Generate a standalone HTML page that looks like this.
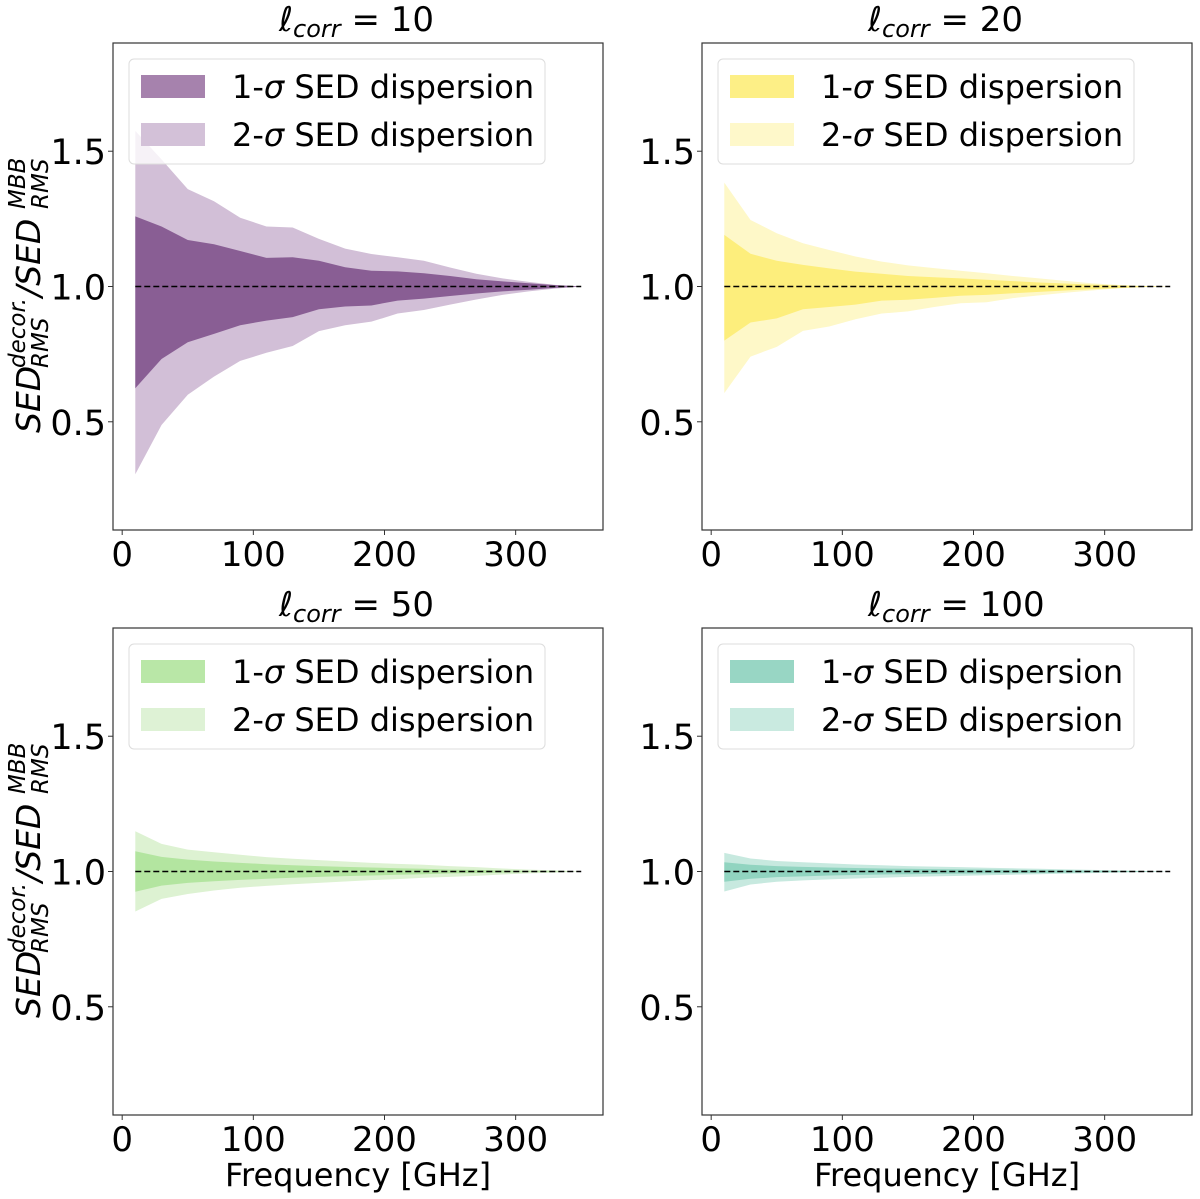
<!DOCTYPE html>
<html><head><meta charset="utf-8"><style>
html,body{margin:0;padding:0;background:#fff;}
svg{display:block;font-family:"DejaVu Sans","Liberation Sans",sans-serif;}
</style></head><body>
<svg id="fig" width="1200" height="1199" viewBox="0 0 1200 1199" xmlns="http://www.w3.org/2000/svg"></svg>
<script>
const freqs = [10,30,50,70,90,110,130,150,170,190,210,230,250,270,290,310,330,350];
const titles = ["10","20","50","100"];
const s2up_10 = [1.575,1.47,1.36,1.315,1.254,1.222,1.218,1.176,1.14,1.12,1.108,1.095,1.07,1.047,1.03,1.017,1.006,1.0];
const s2lo_10 = [0.306,0.488,0.60,0.667,0.725,0.755,0.78,0.835,0.857,0.87,0.90,0.913,0.933,0.952,0.969,0.982,0.992,1.0];
const s1up_10 = [1.259,1.222,1.172,1.156,1.131,1.106,1.108,1.095,1.071,1.058,1.056,1.049,1.039,1.027,1.019,1.012,1.005,1.0];
const s1lo_10 = [0.624,0.732,0.794,0.825,0.857,0.874,0.887,0.916,0.926,0.93,0.948,0.955,0.965,0.974,0.982,0.988,0.995,1.0];
const s2up_20 = [1.384,1.246,1.197,1.16,1.135,1.111,1.092,1.078,1.068,1.058,1.049,1.039,1.03,1.021,1.012,1.006,1.002,1.0];
const s2lo_20 = [0.606,0.741,0.777,0.836,0.852,0.879,0.90,0.908,0.924,0.938,0.942,0.957,0.967,0.977,0.985,0.993,0.998,1.0];
const s1up_20 = [1.191,1.121,1.095,1.08,1.067,1.055,1.047,1.039,1.034,1.03,1.025,1.02,1.015,1.011,1.007,1.004,1.001,1.0];
const s1lo_20 = [0.80,0.867,0.882,0.916,0.924,0.933,0.948,0.951,0.958,0.966,0.969,0.975,0.98,0.985,0.99,0.994,0.998,1.0];
const s2up_50 = [1.149,1.102,1.081,1.071,1.062,1.053,1.047,1.042,1.037,1.032,1.028,1.025,1.02,1.016,1.011,1.007,1.004,1.0];
const s2lo_50 = [0.852,0.899,0.917,0.93,0.94,0.947,0.953,0.958,0.963,0.968,0.972,0.977,0.98,0.984,0.989,0.993,0.996,1.0];
const s1up_50 = [1.075,1.054,1.044,1.037,1.032,1.027,1.023,1.02,1.017,1.015,1.012,1.01,1.007,1.006,1.004,1.002,1.001,1.0];
const s1lo_50 = [0.925,0.948,0.958,0.964,0.969,0.973,0.977,0.98,0.983,0.985,0.988,0.99,0.993,0.994,0.996,0.998,0.999,1.0];
const s2up_100 = [1.069,1.048,1.039,1.034,1.03,1.026,1.023,1.02,1.018,1.016,1.014,1.012,1.01,1.008,1.006,1.004,1.002,1.0];
const s2lo_100 = [0.926,0.952,0.962,0.967,0.971,0.974,0.977,0.98,0.982,0.984,0.986,0.988,0.99,0.992,0.994,0.996,0.998,1.0];
const s1up_100 = [1.034,1.025,1.02,1.017,1.015,1.013,1.011,1.01,1.009,1.008,1.007,1.006,1.005,1.004,1.003,1.002,1.001,1.0];
const s1lo_100 = [0.962,0.973,0.979,0.982,0.985,0.987,0.989,0.99,0.991,0.992,0.993,0.994,0.995,0.996,0.997,0.998,0.999,1.0];
const xTicks = [0,100,200,300];
const yTicks = [0.5,1.0,1.5];
const yTickLabels = ["0.5","1.0","1.5"];

const NS="http://www.w3.org/2000/svg";
const svg=document.getElementById('fig');
function mk(tag,attrs,parent){const e=document.createElementNS(NS,tag);for(const k in attrs)e.setAttribute(k,attrs[k]);(parent||svg).appendChild(e);return e;}

const panels=[
 {L:113,T:43,up2:s2up_10,lo2:s2lo_10,up1:s1up_10,lo1:s1lo_10,c1:"#895e94",c2:"#d2bfd7",lc1:"#a682ad",lc2:"#d3c1d8",ylab:true,xlab:false},
 {L:702,T:43,up2:s2up_20,lo2:s2lo_20,up1:s1up_20,lo1:s1lo_20,c1:"#fdee7c",c2:"#fef8c8",lc1:"#fdef86",lc2:"#fef8ca",ylab:false,xlab:false},
 {L:113,T:628,up2:s2up_50,lo2:s2lo_50,up1:s1up_50,lo1:s1lo_50,c1:"#b3e5a0",c2:"#ddf2d2",lc1:"#b9e7a7",lc2:"#def2d5",ylab:true,xlab:true},
 {L:702,T:628,up2:s2up_100,lo2:s2lo_100,up1:s1up_100,lo1:s1lo_100,c1:"#91d4c0",c2:"#c7e9df",lc1:"#98d6c4",lc2:"#c9eae0",ylab:false,xlab:true}
];
const W=490,H=487,X0=-7,X1=366.6,Y0=0.1,Y1=1.9;

panels.forEach((p,i)=>{
 const sx=v=>p.L+(v-X0)/(X1-X0)*W;
 const sy=v=>p.T+H-(v-Y0)/(Y1-Y0)*H;
 const g=mk('g',{});
 
 
 function band(up,lo,col,name){
  let d='';
  freqs.forEach((f,k)=>{d+=(k?'L':'M')+sx(f).toFixed(2)+','+sy(up[k]).toFixed(2);});
  for(let k=freqs.length-1;k>=0;k--)d+='L'+sx(freqs[k]).toFixed(2)+','+sy(lo[k]).toFixed(2);
  const e=mk('path',{d:d+'Z',fill:col,stroke:'none'},g);
  
  
 }
 band(p.up2,p.lo2,p.c2,'two-sigma-band');
 band(p.up1,p.lo1,p.c1,'one-sigma-band');
 const ref=mk('line',{x1:sx(freqs[0]),x2:sx(freqs[freqs.length-1]),y1:sy(1),y2:sy(1),stroke:'#000','stroke-width':1.6,'stroke-dasharray':'6,3'},g);
 
 
 const fr=mk('rect',{x:p.L,y:p.T,width:W,height:H,fill:'none',stroke:'#333','stroke-width':1.2},g);
 
 
 xTicks.forEach(t=>{
  mk('line',{x1:sx(t),x2:sx(t),y1:p.T+H,y2:p.T+H+5,stroke:'#333','stroke-width':1},g);
  const tx=mk('text',{x:sx(t),y:p.T+H+36,'font-size':34,'text-anchor':'middle',fill:'#000'},g);
  tx.textContent=t;
  
  
 });
 yTicks.forEach((t,k)=>{
  mk('line',{x1:p.L-5,x2:p.L,y1:sy(t),y2:sy(t),stroke:'#333','stroke-width':1},g);
  const tx=mk('text',{x:p.L-7,y:sy(t)+13,'font-size':35,'text-anchor':'end',fill:'#000'},g);
  tx.textContent=yTickLabels[k];
  
  
 });
 const cx=p.L+W/2;
 const tt=mk('text',{x:cx-79,y:p.T-12,'font-size':34,fill:'#000'},g);
 
 
 const t1=mk('tspan',{'font-style':'italic'},tt);t1.textContent='ℓ';
 const t2=mk('tspan',{'font-style':'italic','font-size':24,dy:6},tt);t2.textContent='corr';
 const t3=mk('tspan',{dy:-6},tt);t3.textContent=' = '+titles[i];
 const lg=mk('g',{},g);
 
 
 mk('rect',{x:p.L+16,y:p.T+16,width:416,height:105,rx:5,fill:'#fff','fill-opacity':0.8,stroke:'#ddd','stroke-width':1},lg);
 [[p.lc1,'1-','legend-entry-1-sigma',32],[p.lc2,'2-','legend-entry-2-sigma',80]].forEach(e=>{
  const r=mk('rect',{x:p.L+28,y:p.T+e[3],width:64,height:23,fill:e[0]},lg);
  
  
  const tx=mk('text',{x:p.L+119,y:p.T+e[3]+23,'font-size':32,fill:'#000'},lg);
  
  
  const a=mk('tspan',{},tx);a.textContent=e[1];
  const b=mk('tspan',{'font-style':'italic'},tx);b.textContent='σ';
  const c=mk('tspan',{},tx);c.textContent=' SED dispersion';
 });
 if(p.ylab){
  const yg=mk('g',{transform:'translate(40,'+(p.T+244)+') rotate(-90)'});
  
  
  const st={'font-size':33,'font-style':'italic',fill:'#000'};
  const sm={'font-size':23,'font-style':'italic',fill:'#000'};
  mk('text',Object.assign({x:-146,y:0},st),yg).textContent='SED';
  mk('text',Object.assign({x:-81,y:-15},sm),yg).textContent='decor.';
  mk('text',Object.assign({x:-81,y:8},sm),yg).textContent='RMS';
  mk('text',Object.assign({x:-10,y:0},st),yg).textContent='/SED';
  mk('text',Object.assign({x:78,y:-15},sm),yg).textContent='MBB';
  mk('text',Object.assign({x:78,y:8},sm),yg).textContent='RMS';
 }
 if(p.xlab){
  const xl=mk('text',{x:p.L+W/2,y:1186,'font-size':32,'text-anchor':'middle',fill:'#000'});
  xl.textContent='Frequency [GHz]';
  
  
 }
});
</script>
</body></html>
